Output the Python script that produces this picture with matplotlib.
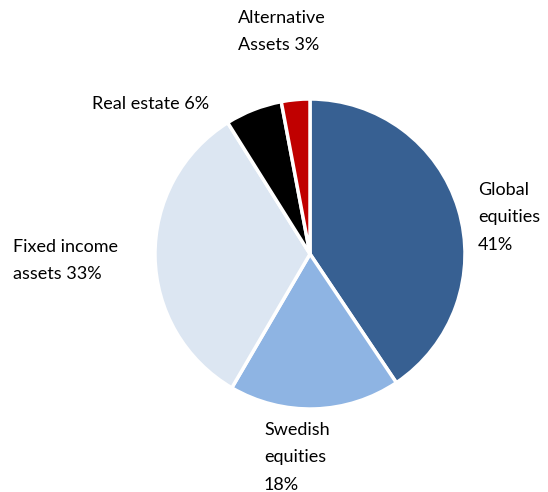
import matplotlib.pyplot as plt

labels = ['Global\nequities\n41%', 'Swedish\nequities\n18%', 'Fixed income\nassets 33%',
          'Real estate 6%', 'Alternative\nAssets 3%']
shares = [41, 18, 33, 6, 3]
colors = ['#376092', '#8EB4E3', '#DCE6F2', '#000000', '#C00000']

# label anchors (left/top of text block) in pixel coordinates
label_px = [(478, 182), (264, 422), (13, 239), (92, 96), (238, 10)]

W, H = 548, 492
cx, cy, r = 310, 254, 155

plt.rcParams['font.family'] = ['Lato', 'DejaVu Sans']
fig = plt.figure(figsize=(W / 100, H / 100), dpi=100)
ax = fig.add_axes([0, 0, 1, 1])

ax.pie(shares, colors=colors, startangle=90, counterclock=False, radius=1,
       wedgeprops=dict(edgecolor='white', linewidth=2.5))

ax.set_xlim(-cx / r, (W - cx) / r)
ax.set_ylim(-(H - cy) / r, cy / r)
ax.set_aspect('equal', adjustable='box')
ax.axis('off')

for lab, (px, py) in zip(labels, label_px):
    ax.text((px - cx) / r, (cy - py) / r, lab, ha='left', va='top',
            fontsize=13, linespacing=1.88, color='black')

fig.savefig('out.png', dpi=100)
